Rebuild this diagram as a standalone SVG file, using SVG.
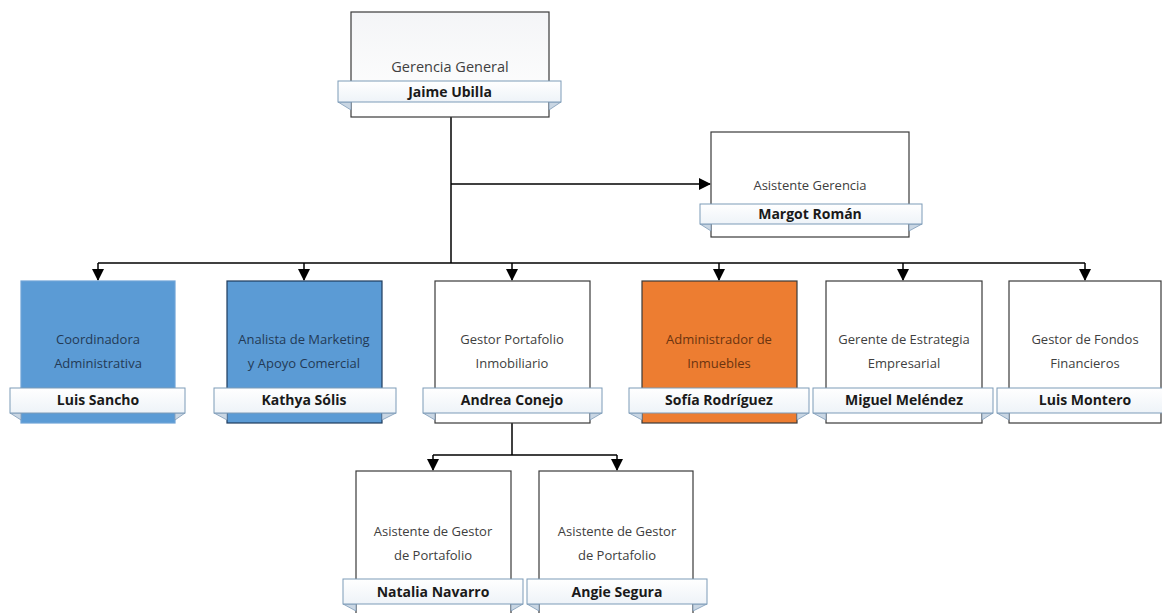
<svg xmlns="http://www.w3.org/2000/svg" width="1162" height="613" viewBox="0 0 1162 613">
<defs>
<linearGradient id="bandG" x1="0" y1="0" x2="0" y2="1"><stop offset="0" stop-color="#ffffff"/><stop offset="1" stop-color="#eef3f8"/></linearGradient>
<linearGradient id="boxG" x1="0" y1="0" x2="0" y2="1"><stop offset="0" stop-color="#f4f5f7"/><stop offset="1" stop-color="#ffffff"/></linearGradient>
<marker id="arr" markerWidth="12" markerHeight="12" refX="11" refY="6" orient="auto" markerUnits="userSpaceOnUse"><path d="M0,0 L12,6 L0,12 Z" fill="#000"/></marker>
</defs>
<style>
.box{fill:#fff;stroke:#3a3a3a;stroke-width:1.2}
.gbox{fill:url(#boxG);stroke:#3a3a3a;stroke-width:1.2}
.blue{fill:#5b9bd5;stroke:#6ea3d8;stroke-width:1.2}
.blued{fill:#5b9bd5;stroke:#1f3b5c;stroke-width:1.2}
.orange{fill:#ed7d31;stroke:#3a3a3a;stroke-width:1.2}
.band{fill:url(#bandG);stroke:#7d9bb8;stroke-width:1}
.fold{fill:#c9d6e3;stroke:#7d9bb8;stroke-width:0.8}
.t{font-family:"Open Sans","Liberation Sans",sans-serif;font-size:13px;fill:#404040;text-anchor:middle}
.big{font-size:14.5px}
.tb{fill:#233a55}
.to{fill:#6b3410}
.n{font-family:"Open Sans","Liberation Sans",sans-serif;font-size:14px;font-weight:bold;fill:#1a1a1a;text-anchor:middle}
.c{stroke:#000;stroke-width:1.5;fill:none}
</style>
<g id="connectors">
<path class="c" d="M451,117 V263"/>
<path class="c" d="M451,184 H710" marker-end="url(#arr)"/>
<path class="c" d="M98,263 H1085"/>
<path class="c" d="M98,263 V280" marker-end="url(#arr)"/>
<path class="c" d="M304,263 V280" marker-end="url(#arr)"/>
<path class="c" d="M512,263 V280" marker-end="url(#arr)"/>
<path class="c" d="M719,263 V280" marker-end="url(#arr)"/>
<path class="c" d="M903,263 V280" marker-end="url(#arr)"/>
<path class="c" d="M1085,263 V280" marker-end="url(#arr)"/>
<path class="c" d="M512,423 V455"/>
<path class="c" d="M433,455 H617"/>
<path class="c" d="M433,455 V470" marker-end="url(#arr)"/>
<path class="c" d="M617,455 V470" marker-end="url(#arr)"/>
</g>
<g id="gerencia">
<rect class="gbox" x="351" y="12" width="198" height="105"/>
<polygon class="fold" points="338,102 351,102 351,110"/><polygon class="fold" points="561,102 549,102 549,110"/>
<rect class="band" x="338" y="81" width="223" height="21"/>
<text class="t big" x="450" y="72">Gerencia General</text>
<text class="n" x="450" y="97">Jaime Ubilla</text>
</g>
<g id="asistente">
<rect class="box" x="711" y="132" width="198" height="105"/>
<polygon class="fold" points="700,224 711,224 711,231"/><polygon class="fold" points="922,224 909,224 909,231"/>
<rect class="band" x="700" y="204" width="222" height="20"/>
<text class="t" x="810" y="190">Asistente Gerencia</text>
<text class="n" x="810" y="219">Margot Román</text>
</g>
<g id="coordinadora">
<rect class="blue" x="21" y="281" width="154" height="142"/>
<polygon class="fold" points="10,413 21,413 21,420"/><polygon class="fold" points="185,413 175,413 175,420"/>
<rect class="band" x="10" y="388" width="175" height="25"/>
<text class="t tb" x="98" y="344">Coordinadora</text>
<text class="t tb" x="98" y="368">Administrativa</text>
<text class="n" x="98" y="405">Luis Sancho</text>
</g>
<g id="analista">
<rect class="blued" x="227" y="281" width="155" height="142"/>
<polygon class="fold" points="214,413 227,413 227,420"/><polygon class="fold" points="396,413 382,413 382,420"/>
<rect class="band" x="214" y="388" width="182" height="25"/>
<text class="t tb" x="304" y="344">Analista de Marketing</text>
<text class="t tb" x="304" y="368">y Apoyo Comercial</text>
<text class="n" x="304" y="405">Kathya Sólis</text>
</g>
<g id="gestor-portafolio">
<rect class="box" x="435" y="281" width="155" height="142"/>
<polygon class="fold" points="423,413 435,413 435,420"/><polygon class="fold" points="602,413 590,413 590,420"/>
<rect class="band" x="423" y="388" width="179" height="25"/>
<text class="t" x="512" y="344">Gestor Portafolio</text>
<text class="t" x="512" y="368">Inmobiliario</text>
<text class="n" x="512" y="405">Andrea Conejo</text>
</g>
<g id="administrador">
<rect class="orange" x="642" y="281" width="155" height="142"/>
<polygon class="fold" points="629,413 642,413 642,420"/><polygon class="fold" points="809,413 797,413 797,420"/>
<rect class="band" x="629" y="388" width="180" height="25"/>
<text class="t to" x="719" y="344">Administrador de</text>
<text class="t to" x="719" y="368">Inmuebles</text>
<text class="n" x="719" y="405">Sofía Rodríguez</text>
</g>
<g id="gerente-estrategia">
<rect class="box" x="826" y="281" width="156" height="142"/>
<polygon class="fold" points="813,413 826,413 826,420"/><polygon class="fold" points="993,413 982,413 982,420"/>
<rect class="band" x="813" y="388" width="180" height="25"/>
<text class="t" x="904" y="344">Gerente de Estrategia</text>
<text class="t" x="904" y="368">Empresarial</text>
<text class="n" x="904" y="405">Miguel Meléndez</text>
</g>
<g id="gestor-fondos">
<rect class="box" x="1009" y="281" width="152" height="142"/>
<polygon class="fold" points="997,413 1009,413 1009,420"/>
<rect class="band" x="997" y="388" width="175" height="25"/>
<text class="t" x="1085" y="344">Gestor de Fondos</text>
<text class="t" x="1085" y="368">Financieros</text>
<text class="n" x="1085" y="405">Luis Montero</text>
</g>
<g id="asistente-natalia">
<rect class="box" x="356" y="471" width="155" height="150"/>
<polygon class="fold" points="343,604 356,604 356,611"/><polygon class="fold" points="523,604 511,604 511,611"/>
<rect class="band" x="343" y="579" width="180" height="25"/>
<text class="t" x="433" y="536">Asistente de Gestor</text>
<text class="t" x="433" y="560">de Portafolio</text>
<text class="n" x="433" y="597">Natalia Navarro</text>
</g>
<g id="asistente-angie">
<rect class="box" x="539" y="471" width="154" height="150"/>
<polygon class="fold" points="527,604 539,604 539,611"/><polygon class="fold" points="707,604 693,604 693,611"/>
<rect class="band" x="527" y="579" width="180" height="25"/>
<text class="t" x="617" y="536">Asistente de Gestor</text>
<text class="t" x="617" y="560">de Portafolio</text>
<text class="n" x="617" y="597">Angie Segura</text>
</g>
</svg>
